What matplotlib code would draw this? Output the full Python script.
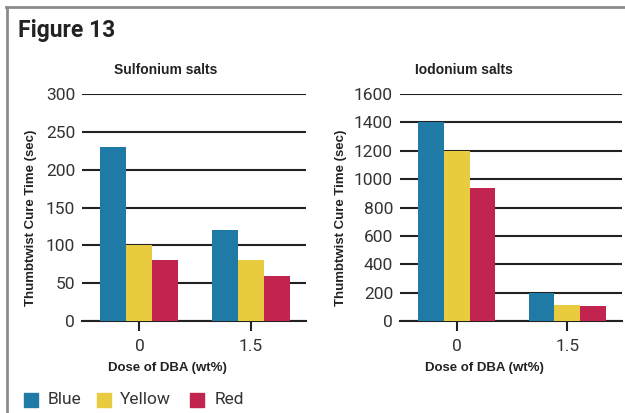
import matplotlib
matplotlib.use("Agg")
import matplotlib.pyplot as plt
from matplotlib.lines import Line2D
from matplotlib.patches import Rectangle
import numpy as np

categories = ["0", "1.5"]
series = ["Blue", "Yellow", "Red"]
colors = ["#1f7ba5", "#e9cb40", "#c1244f"]

sulfonium = {"Blue": [230, 120], "Yellow": [100, 80], "Red": [80, 60]}
iodonium = {"Blue": [1400, 200], "Yellow": [1200, 110], "Red": [940, 104]}

sulf_ticks = [0, 50, 100, 150, 200, 250, 300]
iod_ticks = [0, 200, 400, 600, 800, 1000, 1200, 1400, 1600]

W, H = 625, 413
fig = plt.figure(figsize=(W / 100, H / 100), dpi=100)

tick_font = ["Roboto", "DejaVu Sans"]
narrow = ["Liberation Sans", "DejaVu Sans"]
txt_col = "#333333"
lab_col = "#222222"


def px(x, y):
    return x / W, 1 - y / H


def make_ax(left, right, data, ticks, title, title_x, ylabel_x, xlabel_x):
    l, b = px(left, 321)
    r, t = px(right, 94)
    ax = fig.add_axes([l, b, r - l, t - b])
    x = np.arange(len(categories))
    bw = 0.233
    for i, s in enumerate(series):
        ax.bar(x + (i - 1) * bw, data[s], width=bw, color=colors[i], zorder=3)
    ax.set_xlim(-0.515, 1.495)
    ax.set_ylim(ticks[0], ticks[-1])
    ax.set_yticks(ticks)
    ax.set_yticklabels([str(v) for v in ticks], family=tick_font, fontsize=12.5, color=txt_col)
    ax.set_xticks(x)
    ax.set_xticklabels(categories, family=tick_font, fontsize=12.5, color=txt_col)
    ax.tick_params(axis="y", length=0, pad=5)
    ax.tick_params(axis="x", length=7, width=1.5, color="#222222", pad=6, direction="out")
    for s in ["left", "right", "top"]:
        ax.spines[s].set_visible(False)
    ax.spines["bottom"].set_color("#222222")
    ax.spines["bottom"].set_linewidth(1.5)
    ax.yaxis.grid(True, color="#222222", linewidth=1.5, zorder=0)
    ax.set_axisbelow(True)
    tx, ty = px(title_x, 70)
    fig.text(tx, ty, title, ha="center", va="center", family=narrow, fontweight="bold", fontsize=10, color=lab_col)
    yx, yy = px(ylabel_x, 218)
    fig.text(yx, yy, "Thumbtwist Cure Time (sec)", rotation=90, ha="center", va="center",
             family=narrow, fontweight="bold", fontsize=9.5, color=lab_col)
    xx, xy = px(xlabel_x, 368)
    fig.text(xx, xy, "Dose of DBA (wt%)", ha="center", va="center",
             family=narrow, fontweight="bold", fontsize=9.5, color=lab_col)
    return ax


make_ax(82, 306, sulfonium, sulf_ticks, "Sulfonium salts", 166, 31, 167)
make_ax(400, 622, iodonium, iod_ticks, "Iodonium salts", 464, 341, 484)

# Figure title
fx, fy = px(18, 31)
fig.text(fx, fy, "Figure 13", ha="left", va="center", family=["Roboto", "DejaVu Sans"],
         fontweight="bold", fontsize=16.5, color="#222222")

# Frame (top and left)
fig.add_artist(Line2D([7 / W, 7 / W], [0, 1 - 7 / H], transform=fig.transFigure, color="#8c8c8c", linewidth=2))
fig.add_artist(Line2D([6 / W, 1], [1 - 7 / H, 1 - 7 / H], transform=fig.transFigure, color="#8c8c8c", linewidth=2))

# Legend
leg_pos = [(24, 48), (97, 120), (190, 215)]
for (sx, tx_), s, c in zip(leg_pos, series, colors):
    x0, y0 = px(sx, 407)
    fig.add_artist(Rectangle((x0, y0), 14 / W, 14 / H, transform=fig.transFigure, color=c))
    lx, ly = px(tx_, 400)
    fig.text(lx, ly, s, ha="left", va="center", family=tick_font, fontsize=12.5, color=txt_col)

fig.savefig("out.png", dpi=100)
